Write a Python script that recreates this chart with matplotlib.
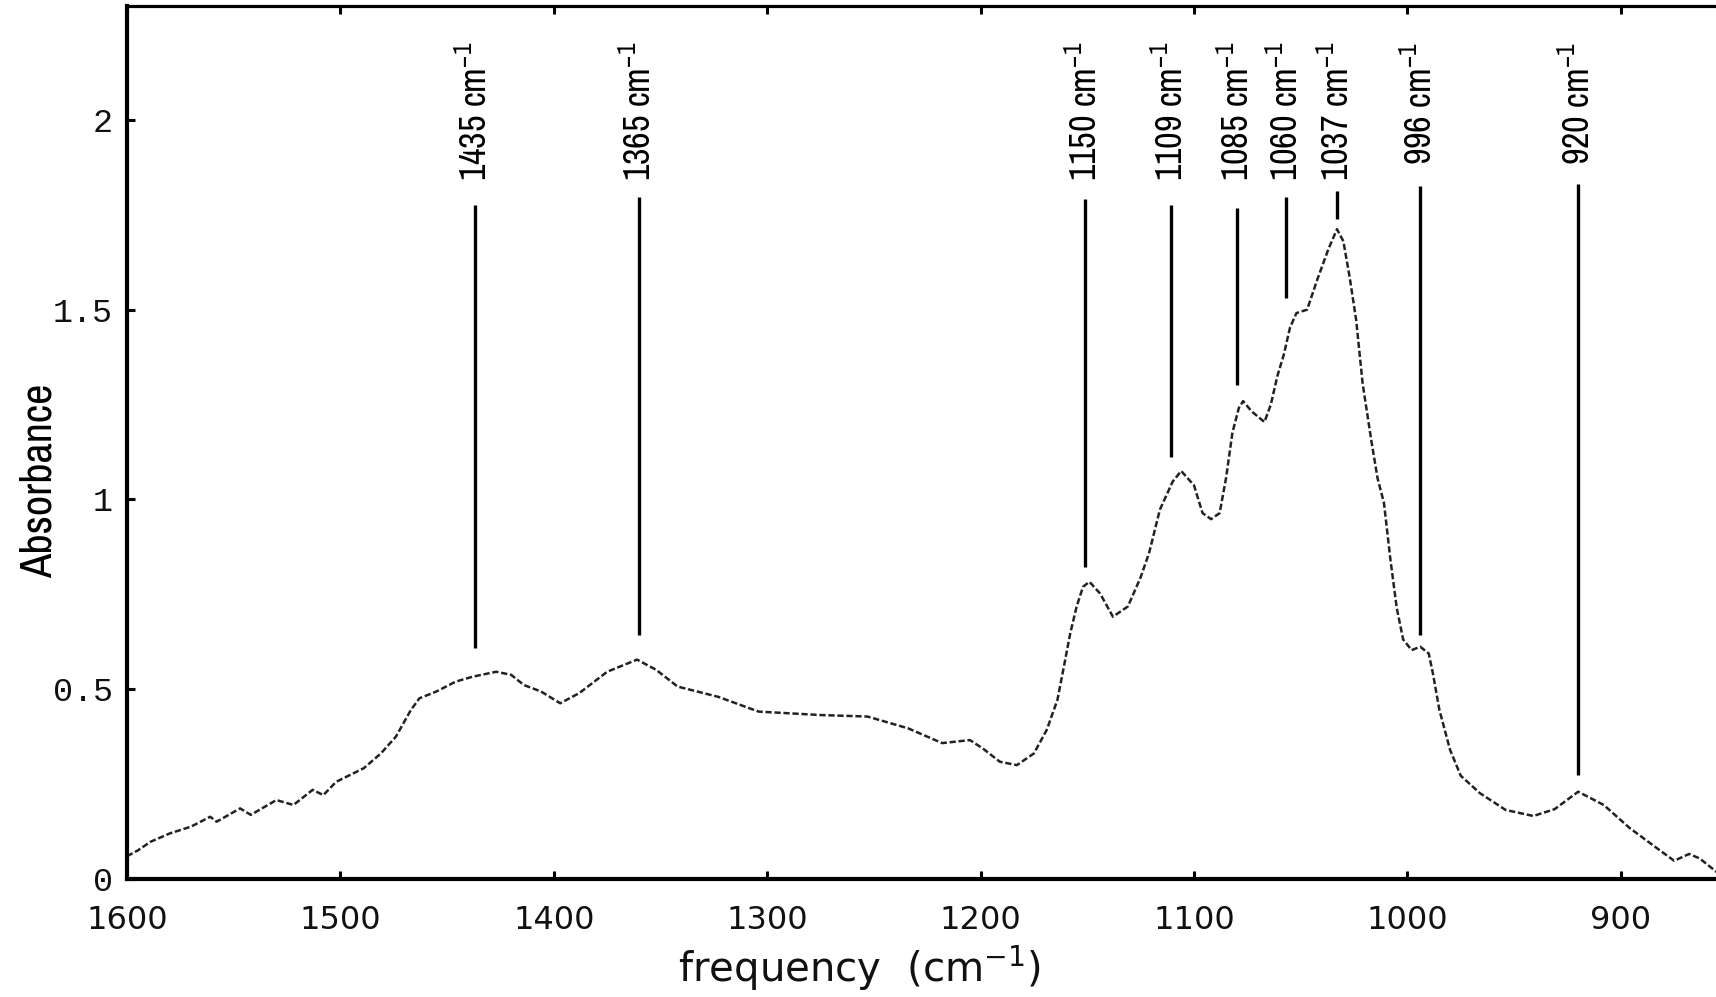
import numpy as np
import matplotlib
matplotlib.use("Agg")
import matplotlib.pyplot as plt
from matplotlib import font_manager

# spectrum (cm-1, absorbance)
wavenumber = [1600, 1595, 1589, 1580, 1570, 1561, 1558, 1547, 1542, 1530,
              1522, 1513, 1508, 1502, 1489, 1481, 1474, 1467, 1463, 1455,
              1446, 1438, 1427, 1420, 1414, 1406, 1397, 1388, 1375, 1361,
              1352, 1342, 1323, 1304, 1275, 1253, 1234, 1218, 1205, 1199,
              1191, 1183, 1175, 1169, 1164, 1161, 1158, 1155, 1152, 1149,
              1144, 1138, 1131, 1125, 1121, 1116, 1110, 1106, 1100, 1096,
              1092, 1088, 1085, 1082, 1079, 1077, 1073, 1067, 1064, 1061,
              1058, 1055, 1052, 1047, 1042, 1037, 1033, 1030, 1027, 1024,
              1021, 1017, 1014, 1011, 1008, 1005, 1002, 998, 994, 990,
              988, 985, 980, 975, 966, 954, 941, 931, 920, 908,
              896, 884, 875, 868, 863, 855]
absorbance = [0.060, 0.075, 0.098, 0.120, 0.138, 0.164, 0.151, 0.186, 0.169, 0.208,
              0.195, 0.235, 0.221, 0.256, 0.292, 0.331, 0.375, 0.445, 0.476, 0.494,
              0.520, 0.533, 0.546, 0.538, 0.511, 0.494, 0.463, 0.490, 0.546, 0.578,
              0.551, 0.507, 0.480, 0.441, 0.432, 0.428, 0.397, 0.358, 0.366, 0.344,
              0.309, 0.300, 0.331, 0.393, 0.472, 0.559, 0.647, 0.718, 0.770, 0.783,
              0.752, 0.691, 0.718, 0.795, 0.860, 0.973, 1.047, 1.075, 1.037, 0.964,
              0.948, 0.964, 1.056, 1.176, 1.241, 1.259, 1.232, 1.204, 1.250, 1.324,
              1.380, 1.453, 1.491, 1.500, 1.583, 1.660, 1.712, 1.680, 1.583, 1.472,
              1.306, 1.158, 1.056, 0.991, 0.843, 0.714, 0.631, 0.603, 0.612, 0.594,
              0.540, 0.445, 0.340, 0.272, 0.226, 0.182, 0.166, 0.184, 0.230, 0.195,
              0.135, 0.085, 0.048, 0.066, 0.054, 0.018]

# peak assignments: label text, marker position, marker extent
peak_labels = ['1435', '1365', '1150', '1109', '1085', '1060', '1037', '996', '920']
peak_x = [1437, 1360, 1151, 1111, 1080, 1057, 1033, 994, 920]
line_top = [1.777, 1.797, 1.791, 1.777, 1.768, 1.797, 1.812, 1.826, 1.832]
line_bottom = [0.609, 0.643, 0.822, 1.111, 1.301, 1.532, 1.739, 0.643, 0.275]

x_ticks = [1600, 1500, 1400, 1300, 1200, 1100, 1000, 900]
y_ticks = [0, 0.5, 1, 1.5, 2]
y_tick_labels = ['0', '0.5', '1', '1.5', '2']

plt.rcParams['mathtext.default'] = 'regular'

# a narrow sans if one is installed, else plain Liberation Sans
names = sorted({f.name for f in font_manager.fontManager.ttflist})
narrow_found = [n for n in names if 'Narrow' in n or 'Condensed' in n]
if narrow_found:
    narrow, peak_size, ylab_size = narrow_found[0], 26, 32
else:
    narrow, peak_size, ylab_size = 'Liberation Sans', 22, 28

fig = plt.figure(figsize=(17.16, 9.97), dpi=100)
ax = fig.add_axes([127/1716, 1 - 879/997, (1716 - 127)/1716, (879 - 6)/997])

ax.plot(wavenumber, absorbance, color='#222222', lw=1.8, ls=(0, (2.5, 1.1)))
ax.vlines(peak_x, line_bottom, line_top, colors='black', linewidths=2.4)

for lab, x in zip(peak_labels, peak_x):
    ax.text(x, 2.205, lab + ' cm$^{-1}$', rotation=90, ha='center', va='top',
            fontsize=peak_size, family=narrow, color='black')

ax.set_xlim(1600, 855.4)
ax.set_ylim(0, 2.30)
ax.set_xticks(x_ticks)
ax.set_xticklabels([str(t) for t in x_ticks], fontsize=23, family='DejaVu Sans', color='#111111')
ax.set_yticks(y_ticks)
ax.set_yticklabels(y_tick_labels, fontsize=24, family='Liberation Mono', color='#111111')

ax.tick_params(axis='x', direction='in', length=6, width=2.2, top=True, pad=19)
ax.tick_params(axis='y', direction='in', length=6, width=2.2, right=False, pad=10)

for side in ['left', 'bottom']:
    ax.spines[side].set_linewidth(3)
ax.spines['top'].set_linewidth(2.3)
ax.spines['right'].set_visible(False)

ax.set_xlabel('frequency  (cm$^{-1}$)', fontsize=29, family='DejaVu Sans', color='#111111', va='center')
ax.xaxis.set_label_coords((859 - 127)/1589, (879 - 968)/873)
ax.set_ylabel('Absorbance', fontsize=ylab_size, family=narrow, color='black', va='center')
ax.yaxis.set_label_coords((40 - 127)/1589, (879 - 481)/873)

fig.savefig('out.png', dpi=100, facecolor='white')
